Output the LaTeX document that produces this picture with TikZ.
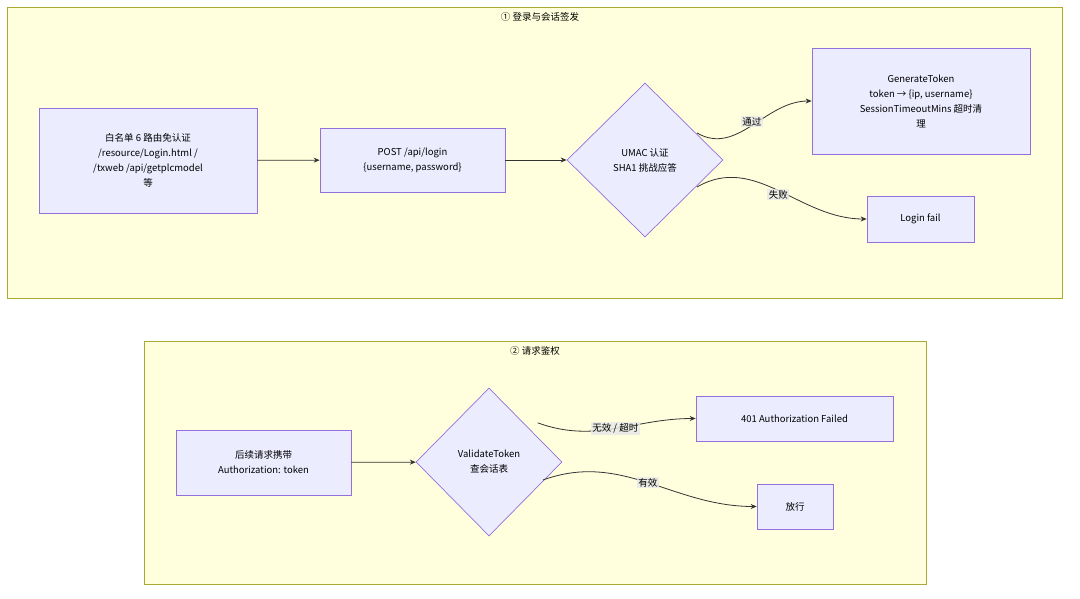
\documentclass[tikz,border=0pt]{standalone}
\usepackage{fontspec}
\setmainfont{Noto Sans CJK SC}
\usetikzlibrary{shapes.geometric,arrows.meta}
\definecolor{grp}{HTML}{FFFFDE}
\definecolor{grpb}{HTML}{AAAA33}
\definecolor{nd}{HTML}{ECECFF}
\definecolor{ndb}{HTML}{9370DB}
\definecolor{ln}{HTML}{333333}
\definecolor{lbl}{HTML}{E8E8E8}
\begin{document}
\begin{tikzpicture}[x=1pt,y=-1pt,
  grpbox/.style={draw=grpb,fill=grp,line width=0.6pt},
  box/.style={draw=ndb,fill=nd,line width=0.7pt,align=center,font=\fontsize{9.5}{15}\selectfont,inner sep=0pt},
  dia/.style={diamond,draw=ndb,fill=nd,line width=0.7pt,align=center,font=\fontsize{9.5}{15}\selectfont,inner sep=0pt},
  ttl/.style={font=\fontsize{9.5}{12}\selectfont},
  edge/.style={draw=ln,line width=0.8pt,-{Stealth[length=6pt,width=5pt]}},
  el/.style={fill=lbl,fill opacity=0.8,text opacity=1,font=\fontsize{9.5}{12}\selectfont,inner sep=1.5pt}]
\useasboundingbox (0,0) rectangle (1080,599);
\fill[white] (0,0) rectangle (1080,599);
% group 1
\draw[grpbox] (7,7) rectangle (1062,298);
\node[ttl] (t1) at (540,17) {① 登录与会话签发};
\node[box,minimum width=218pt,minimum height=105pt] (a) at (148,160.5) {白名单 6 路由免认证\\/resource/Login.html /\\/txweb /api/getplcmodel\\等};
\node[box,minimum width=185pt,minimum height=64pt] (b) at (412.5,160) {POST /api/login\\\{username, password\}};
\node[dia,minimum width=156pt,minimum height=154pt] (c) at (645,160) {UMAC 认证\\SHA1 挑战应答};
\node[box,minimum width=218pt,minimum height=106pt] (d) at (921,101) {GenerateToken\\token → \{ip, username\}\\SessionTimeoutMins 超时清\\理};
\node[box,minimum width=107pt,minimum height=46pt] (e) at (920.5,219) {Login fail};
\draw[edge] (a) -- (b);
\draw[edge] (b) -- (c);
\draw[edge] (697,133) to[out=-30,in=180] node[el,pos=0.5,above=-2pt] {通过} (d.west);
\draw[edge] (697,187) to[out=30,in=180] node[el,pos=0.5,below=-2pt] {失败} (e.west);
% group 2
\draw[grpbox] (144,341) rectangle (926,584);
\node[ttl] (t2) at (535,351) {② 请求鉴权};
\node[box,minimum width=175pt,minimum height=65pt] (f) at (263.5,462.5) {后续请求携带\\Authorization: token};
\node[dia,minimum width=146pt,minimum height=148pt] (g) at (489,462) {ValidateToken\\查会话表};
\node[box,minimum width=197pt,minimum height=45pt] (h) at (794.5,418.5) {401 Authorization Failed};
\node[box,minimum width=76pt,minimum height=45pt] (i) at (795,506.5) {放行};
\draw[edge] (f) -- (g);
\draw[edge] (g.north east) ++(12,-2) to[out=-20,in=180] node[el,pos=0.5] {无效 / 超时} (h.west);
\draw[edge] (543,480) to[out=20,in=180] node[el,pos=0.5] {有效} (i.west);
\end{tikzpicture}
\end{document}
